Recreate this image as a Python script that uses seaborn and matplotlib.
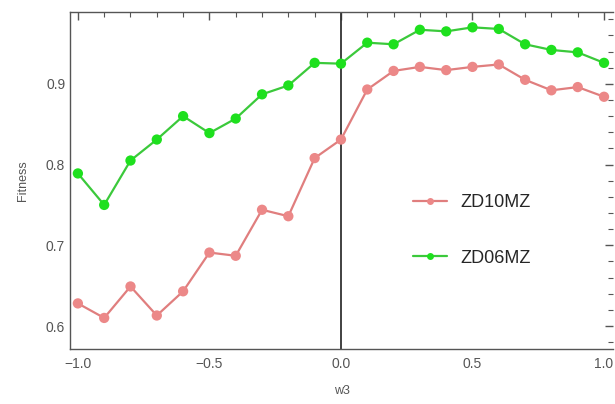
import numpy as np
import pandas as pd
import matplotlib
matplotlib.use("Agg")
import matplotlib.pyplot as plt
import seaborn as sns
from matplotlib.ticker import MultipleLocator
from matplotlib.lines import Line2D

# Data
w3 = [-1.0, -0.9, -0.8, -0.7, -0.6, -0.5, -0.4, -0.3, -0.2, -0.1, 0.0,
      0.1, 0.2, 0.3, 0.4, 0.5, 0.6, 0.7, 0.8, 0.9, 1.0]
zd10mz = [0.628, 0.610, 0.649, 0.613, 0.643, 0.691, 0.687, 0.744, 0.736, 0.808, 0.831,
          0.893, 0.916, 0.921, 0.917, 0.921, 0.924, 0.905, 0.892, 0.896, 0.884]
zd06mz = [0.789, 0.750, 0.805, 0.831, 0.860, 0.839, 0.857, 0.887, 0.898, 0.926, 0.925,
          0.951, 0.949, 0.967, 0.965, 0.970, 0.968, 0.949, 0.942, 0.939, 0.926]
series_names = ["ZD10MZ", "ZD06MZ"]
line_colors = {"ZD10MZ": "#E07E7E", "ZD06MZ": "#3BC93B"}
marker_colors = {"ZD10MZ": "#EC8888", "ZD06MZ": "#1EE01E"}

df = pd.DataFrame({
    "w3": w3 * 2,
    "Fitness": zd10mz + zd06mz,
    "series": ["ZD10MZ"] * len(w3) + ["ZD06MZ"] * len(w3),
})

sns.set_style("white")
plt.rcParams["font.family"] = ["Liberation Sans", "DejaVu Sans"]

fig = plt.figure(figsize=(6.15, 4.04), dpi=100)
ax = fig.add_axes([0.1138, 0.1361, 0.8829, 0.8342])

sns.lineplot(data=df, x="w3", y="Fitness", hue="series", hue_order=series_names,
             palette=line_colors, linewidth=1.6, legend=False, ax=ax)
for name in series_names:
    sub = df[df["series"] == name]
    sns.scatterplot(data=sub, x="w3", y="Fitness", color=marker_colors[name],
                    s=55, edgecolor="none", ax=ax, legend=False, zorder=3)

# vertical axis line at w3 = 0
ax.axvline(0, color="#333333", linewidth=1.3, zorder=1)

ax.set_xlim(-1.03, 1.034)
ax.set_ylim(0.5715, 0.989)
ax.xaxis.set_major_locator(MultipleLocator(0.5))
ax.xaxis.set_minor_locator(MultipleLocator(0.1))
ax.yaxis.set_major_locator(MultipleLocator(0.1))
ax.yaxis.set_minor_locator(MultipleLocator(0.02))
ax.xaxis.set_major_formatter(plt.FuncFormatter(lambda v, p: f"{v:.1f}".replace("-", "\u2212")))
ax.yaxis.set_major_formatter(plt.FuncFormatter(lambda v, p: f"{v:.1f}"))

ax.tick_params(which="both", direction="in", top=True, right=True, colors="#555555",
               labelcolor="#555555", labelsize=10)
ax.tick_params(which="major", length=6, width=1)
ax.tick_params(which="minor", length=3.5, width=0.8)
ax.tick_params(axis="x", pad=6)
for s in ax.spines.values():
    s.set_color("#555555")
    s.set_linewidth(1)
ax.spines["right"].set_visible(False)

ax.set_xlabel("w3", fontsize=9, color="#555555", labelpad=10)
ax.set_ylabel("Fitness", fontsize=9, color="#555555", labelpad=12)

handles = [Line2D([], [], color=line_colors[n], linewidth=1.6, marker="o", markersize=5,
                  markerfacecolor=marker_colors[n], markeredgecolor="none") for n in series_names]
ax.legend(handles, series_names, loc="center left", bbox_to_anchor=(0.602, 0.352),
          frameon=False, fontsize=13, handlelength=1.9, labelspacing=2.15, handletextpad=0.7)

plt.savefig("out.png", dpi=100)
